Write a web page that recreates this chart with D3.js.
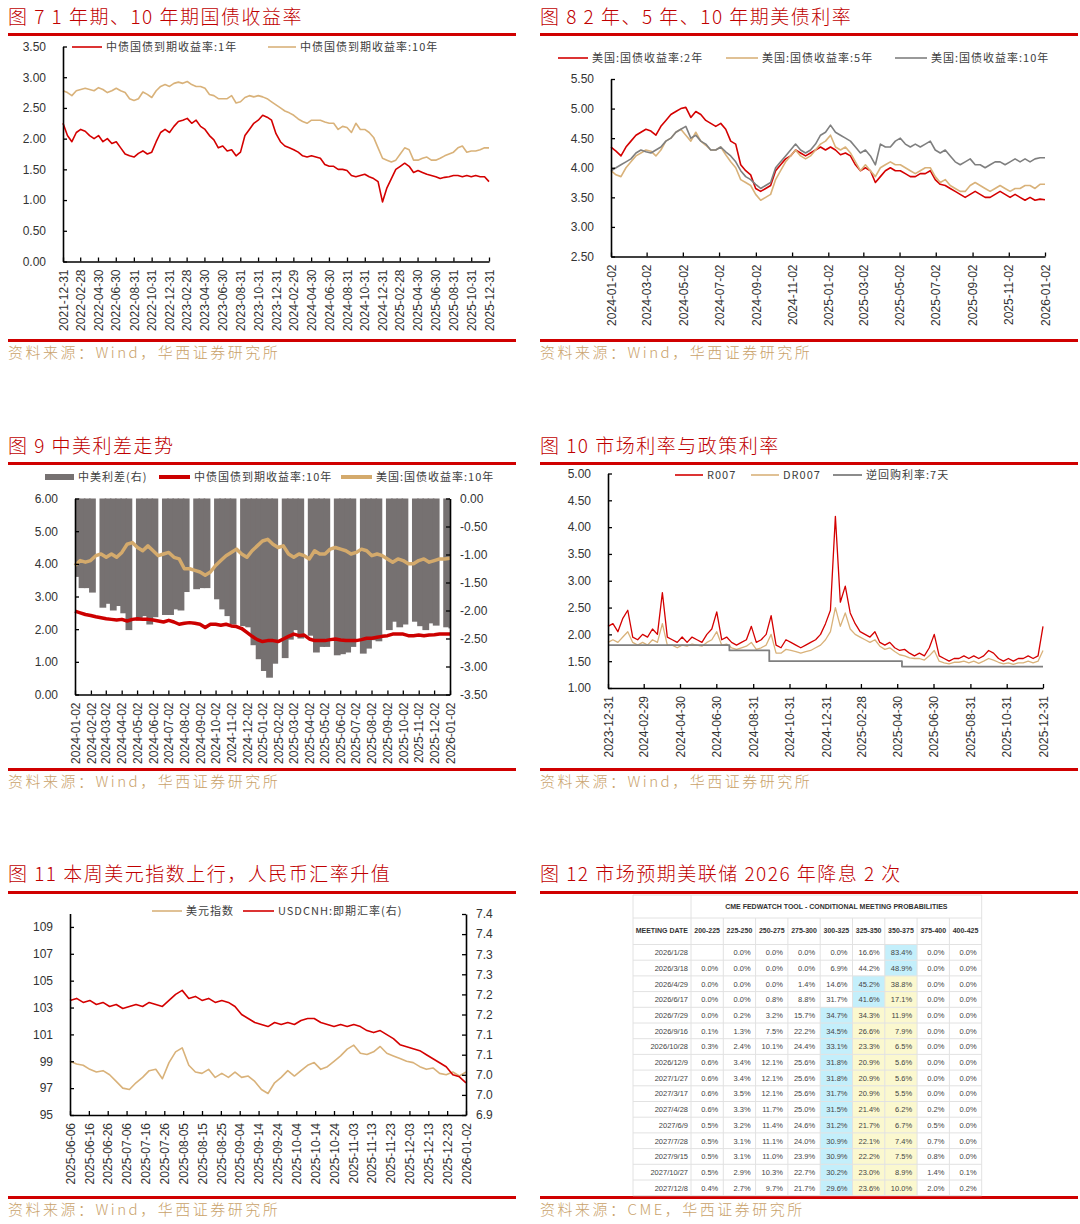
<!DOCTYPE html>
<html>
<head>
<meta charset="utf-8">
<script src="https://cdnjs.cloudflare.com/ajax/libs/d3/7.8.5/d3.min.js"></script>
<style>
  body { margin: 0; background: #fff; }
  svg { display: block; }
</style>
</head>
<body>
<svg id="chart" width="1080" height="1224"></svg>
<script>
// ---------- data ----------
var p7Ticks = ['2021-12-31','2022-02-28','2022-04-30','2022-06-30','2022-08-31','2022-10-31','2022-12-31','2023-02-28','2023-04-30','2023-06-30','2023-08-31','2023-10-31','2023-12-31','2024-02-29','2024-04-30','2024-06-30','2024-08-31','2024-10-31','2024-12-31','2025-02-28','2025-04-30','2025-06-30','2025-08-31','2025-10-31','2025-12-31'];
// semi-monthly readings, 2021-12-31 .. 2025-12-31
var cn1y = [2.25,2.05,1.95,2.1,2.15,2.12,2.05,2.0,2.05,1.95, 2.0,1.92,1.95,1.85,1.75,1.72,1.7,1.76,1.8,1.75, 1.78,1.95,2.1,2.15,2.1,2.2,2.28,2.3,2.33,2.25, 2.3,2.2,2.15,2.05,1.98,1.85,1.88,1.8,1.82,1.72, 1.78,2.05,2.15,2.25,2.3,2.38,2.35,2.3,2.08,1.95, 1.88,1.85,1.82,1.78,1.72,1.7,1.72,1.7,1.68,1.58, 1.55,1.55,1.5,1.5,1.48,1.4,1.38,1.4,1.42,1.38, 1.35,1.3,0.97,1.2,1.35,1.5,1.55,1.6,1.55,1.45, 1.48,1.45,1.42,1.4,1.38,1.35,1.37,1.38,1.4,1.4, 1.38,1.4,1.38,1.4,1.38,1.38,1.3];
var cn10y = [2.78,2.75,2.7,2.78,2.8,2.82,2.8,2.78,2.83,2.8, 2.75,2.78,2.82,2.78,2.75,2.65,2.62,2.65,2.76,2.72, 2.67,2.78,2.85,2.88,2.85,2.9,2.92,2.9,2.93,2.88, 2.85,2.85,2.82,2.72,2.7,2.65,2.65,2.65,2.7,2.58, 2.6,2.67,2.7,2.68,2.7,2.68,2.65,2.6,2.55,2.5, 2.45,2.42,2.38,2.32,2.28,2.25,2.3,2.3,2.3,2.27, 2.25,2.25,2.15,2.2,2.18,2.1,2.25,2.15,2.15,2.1, 2.02,1.85,1.68,1.65,1.62,1.65,1.75,1.85,1.82,1.65, 1.65,1.68,1.7,1.65,1.65,1.68,1.72,1.75,1.78,1.85, 1.88,1.78,1.8,1.8,1.82,1.85,1.85];

var p8Ticks = ['2024-01-02','2024-03-02','2024-05-02','2024-07-02','2024-09-02','2024-11-02','2025-01-02','2025-03-02','2025-05-02','2025-07-02','2025-09-02','2025-11-02','2026-01-02'];
var us2y = [4.35,4.28,4.2,4.35,4.45,4.55,4.6,4.65,4.62,4.55, 4.7,4.8,4.9,4.95,5.0,5.02,4.85,4.95,4.9,4.8, 4.75,4.7,4.75,4.65,4.45,4.4,4.05,3.95,3.88,3.65, 3.6,3.65,3.7,3.95,4.05,4.15,4.2,4.3,4.25,4.2, 4.25,4.3,4.35,4.3,4.35,4.3,4.22,4.25,4.2,4.05, 3.95,4.0,3.95,3.75,3.85,3.95,4.0,3.95,3.95,3.9, 3.85,3.85,3.9,3.9,3.95,3.8,3.72,3.7,3.65,3.6, 3.55,3.5,3.55,3.6,3.55,3.5,3.5,3.55,3.6,3.55, 3.5,3.55,3.5,3.45,3.5,3.45,3.47,3.46];
var us5y = [3.95,3.88,3.85,4.0,4.1,4.2,4.25,4.3,4.28,4.2, 4.3,4.45,4.5,4.6,4.65,4.55,4.45,4.6,4.45,4.38, 4.3,4.3,4.35,4.22,4.1,4.0,3.8,3.75,3.7,3.55, 3.45,3.5,3.55,3.8,3.95,4.1,4.2,4.3,4.2,4.15, 4.2,4.3,4.4,4.45,4.55,4.35,4.3,4.35,4.25,4.1, 3.95,4.05,3.95,3.85,4.0,4.05,4.1,4.05,4.05,4.0, 3.95,3.9,3.95,4.0,4.0,3.85,3.75,3.8,3.7,3.65, 3.6,3.6,3.7,3.75,3.7,3.65,3.6,3.65,3.7,3.65, 3.6,3.65,3.65,3.7,3.7,3.65,3.72,3.72];
var us10y = [3.95,4.0,4.05,4.1,4.15,4.25,4.3,4.27,4.25,4.3, 4.35,4.45,4.5,4.6,4.65,4.7,4.5,4.55,4.45,4.4, 4.3,4.3,4.35,4.27,4.2,4.1,3.95,3.85,3.8,3.72, 3.65,3.7,3.75,4.0,4.1,4.2,4.3,4.4,4.3,4.25, 4.3,4.4,4.55,4.6,4.72,4.6,4.55,4.5,4.45,4.35, 4.25,4.3,4.2,4.05,4.4,4.35,4.35,4.45,4.5,4.4, 4.35,4.4,4.35,4.4,4.45,4.3,4.25,4.3,4.2,4.1, 4.05,4.1,4.15,4.05,4.05,4.0,4.05,4.1,4.1,4.05, 4.1,4.15,4.1,4.15,4.1,4.15,4.17,4.17];

var p9Ticks = ['2024-01-02','2024-02-02','2024-03-02','2024-04-02','2024-05-02','2024-06-02','2024-07-02','2024-08-02','2024-09-02','2024-10-02','2024-11-02','2024-12-02','2025-01-02','2025-02-02','2025-03-02','2025-04-02','2025-05-02','2025-06-02','2025-07-02','2025-08-02','2025-09-02','2025-10-02','2025-11-02','2025-12-02','2026-01-02'];
// ~10-day readings, 2024-01-02 .. 2026-01-02
var p9Cn10y = [2.55,2.5,2.45, 2.42,2.38,2.35, 2.32,2.3,2.28, 2.3,2.25,2.3, 2.32,2.3,2.3, 2.28,2.25,2.22, 2.27,2.22,2.15, 2.18,2.2,2.18, 2.15,2.05,2.15, 2.15,2.12,2.15, 2.1,2.08,2.02, 1.9,1.78,1.68, 1.62,1.65,1.65, 1.62,1.7,1.78, 1.85,1.8,1.82, 1.7,1.65,1.65, 1.65,1.68,1.7, 1.67,1.65,1.65, 1.65,1.68,1.72, 1.72,1.75,1.78, 1.8,1.85,1.85, 1.85,1.8,1.8, 1.82,1.8,1.82, 1.83,1.85,1.85, 1.85];
var p9Us10y = [3.95,4.1,4.05, 4.1,4.25,4.3, 4.2,4.3,4.2, 4.35,4.6,4.65, 4.5,4.4,4.55, 4.4,4.25,4.3, 4.35,4.2,4.15, 3.85,3.85,3.8, 3.75,3.65,3.75, 3.95,4.1,4.25, 4.35,4.45,4.3, 4.2,4.4,4.55, 4.7,4.75,4.6, 4.5,4.55,4.3, 4.2,4.3,4.25, 4.15,4.4,4.3, 4.3,4.45,4.5, 4.45,4.4,4.3, 4.35,4.45,4.4, 4.25,4.3,4.25, 4.15,4.05,4.15, 4.1,4.0,4.0, 4.1,4.15,4.05, 4.1,4.15,4.15, 4.17];
var p9Spread = [-1.4,-1.6,-1.6, -1.68,null,-1.95, -1.88,-2.0,-1.92, -2.05,-2.35,null, -2.18,-2.1,-2.25, -2.12,null,-2.08, -2.08,-1.98,-2.0, -1.67,null,-1.62, -1.6,-1.6,null, -1.8,-1.98,-2.1, -2.25,null,-2.28, -2.3,-2.62,-2.87, -3.08,-3.2,-2.95, null,-2.85,-2.52, -2.35,-2.5,null, -2.45,-2.75,-2.65, -2.65,null,-2.8, -2.78,-2.75,-2.65, null,-2.77,-2.68, -2.53,-2.55,null, -2.35,-2.2,-2.3, -2.25,null,-2.2, -2.28,-2.35,-2.23, -2.27,null,-2.3, -2.32];

var p10Ticks = ['2023-12-31','2024-02-29','2024-04-30','2024-06-30','2024-08-31','2024-10-31','2024-12-31','2025-02-28','2025-04-30','2025-06-30','2025-08-31','2025-10-31','2025-12-31'];
// ~8-day readings, 2023-12-31 .. 2025-12-31
var r007 = [2.15,2.2,2.05,2.3,2.45,1.95,1.9,2.0,1.95,2.1, 2.0,2.78,1.95,1.9,1.85,1.95,1.85,1.95,1.9,1.85, 2.0,2.1,2.42,1.9,1.95,1.85,1.8,1.85,1.9,2.15, 1.85,1.9,2.0,2.35,1.8,1.75,1.9,1.85,1.8,1.75, 1.8,1.85,1.9,2.0,2.2,2.45,4.2,2.6,2.9,2.4, 2.2,2.05,2.0,1.95,2.05,1.85,1.8,1.85,1.75,1.7, 1.72,1.65,1.6,1.65,1.6,1.75,2.0,1.6,1.55,1.5, 1.55,1.55,1.6,1.55,1.6,1.55,1.6,1.7,1.65,1.55, 1.5,1.55,1.5,1.55,1.55,1.6,1.55,1.6,2.15];
var dr007 = [1.85,1.9,1.85,1.95,2.05,1.85,1.8,1.85,1.8,1.9, 1.85,2.2,1.8,1.8,1.75,1.8,1.78,1.82,1.8,1.78, 1.85,1.9,2.05,1.8,1.82,1.75,1.72,1.75,1.78,1.85, 1.72,1.75,1.8,2.0,1.65,1.65,1.72,1.7,1.68,1.65, 1.68,1.7,1.75,1.8,1.9,2.05,2.5,2.15,2.4,2.1, 2.0,1.95,1.9,1.85,1.9,1.78,1.72,1.75,1.68,1.62, 1.6,1.56,1.55,1.55,1.52,1.6,1.7,1.5,1.47,1.45, 1.48,1.48,1.5,1.47,1.5,1.46,1.5,1.55,1.52,1.48, 1.45,1.47,1.44,1.47,1.47,1.5,1.47,1.5,1.7];
var policy7d = [['2023-12-31',1.8],['2024-07-22',1.7],['2024-09-27',1.5],['2025-05-08',1.4],['2025-12-31',1.4]];

var p11Ticks = ['2025-06-06','2025-06-16','2025-06-26','2025-07-06','2025-07-16','2025-07-26','2025-08-05','2025-08-15','2025-08-25','2025-09-04','2025-09-14','2025-09-24','2025-10-04','2025-10-14','2025-10-24','2025-11-03','2025-11-13','2025-11-23','2025-12-03','2025-12-13','2025-12-23','2026-01-02'];
var p11LeftTicks = [95,97,99,101,103,105,107,109];
var p11RightTicks = [6.9,6.95,7.0,7.05,7.1,7.15,7.2,7.25,7.3,7.35,7.4];
var p11RightLabels = ['6.9','7.0','7.0','7.1','7.1','7.2','7.2','7.3','7.3','7.4','7.4'];
// ~3.5-day readings, 2025-06-06 .. 2026-01-02
var dxy = [99.0,98.8,98.7,98.4,98.2,98.3,98.0,97.5,97.0,96.9, 97.4,97.8,98.3,98.4,97.7,98.9,99.7,100.0,98.7,98.2, 98.1,98.4,97.8,98.1,97.8,98.2,97.8,97.9,97.5,96.9, 96.6,97.4,97.8,98.3,97.9,98.3,98.7,98.9,98.4,98.6, 99.0,99.4,99.9,100.2,99.6,99.5,99.7,100.1,99.6,99.4, 99.2,99.0,98.9,98.6,98.4,98.5,98.1,98.0,98.2,97.9, 98.2];
var usdcnh = [7.185,7.19,7.18,7.185,7.175,7.18,7.17,7.175,7.165,7.17, 7.175,7.17,7.18,7.175,7.17,7.185,7.2,7.21,7.19,7.195, 7.185,7.19,7.18,7.185,7.18,7.17,7.15,7.14,7.13,7.125, 7.12,7.13,7.125,7.13,7.125,7.135,7.14,7.14,7.13,7.125, 7.12,7.125,7.12,7.125,7.12,7.11,7.105,7.11,7.1,7.09, 7.075,7.07,7.065,7.06,7.05,7.04,7.03,7.02,7.0,6.995, 6.98];

var p12Ranges = ['200-225','225-250','250-275','275-300','300-325','325-350','350-375','375-400','400-425'];
var p12Dates = ['2026/1/28','2026/3/18','2026/4/29','2026/6/17','2026/7/29','2026/9/16','2026/10/28','2026/12/9','2027/1/27','2027/3/17','2027/4/28','2027/6/9','2027/7/28','2027/9/15','2027/10/27','2027/12/8'];
var p12Probs = [
  ['','0.0%','0.0%','0.0%','0.0%','16.6%','83.4%','0.0%','0.0%'],
  ['0.0%','0.0%','0.0%','0.0%','6.9%','44.2%','48.9%','0.0%','0.0%'],
  ['0.0%','0.0%','0.0%','1.4%','14.6%','45.2%','38.8%','0.0%','0.0%'],
  ['0.0%','0.0%','0.8%','8.8%','31.7%','41.6%','17.1%','0.0%','0.0%'],
  ['0.0%','0.2%','3.2%','15.7%','34.7%','34.3%','11.9%','0.0%','0.0%'],
  ['0.1%','1.3%','7.5%','22.2%','34.5%','26.6%','7.9%','0.0%','0.0%'],
  ['0.3%','2.4%','10.1%','24.4%','33.1%','23.3%','6.5%','0.0%','0.0%'],
  ['0.6%','3.4%','12.1%','25.6%','31.8%','20.9%','5.6%','0.0%','0.0%'],
  ['0.6%','3.4%','12.1%','25.6%','31.8%','20.9%','5.6%','0.0%','0.0%'],
  ['0.6%','3.5%','12.1%','25.6%','31.7%','20.9%','5.5%','0.0%','0.0%'],
  ['0.6%','3.3%','11.7%','25.0%','31.5%','21.4%','6.2%','0.2%','0.0%'],
  ['0.5%','3.2%','11.4%','24.6%','31.2%','21.7%','6.7%','0.5%','0.0%'],
  ['0.5%','3.1%','11.1%','24.0%','30.9%','22.1%','7.4%','0.7%','0.0%'],
  ['0.5%','3.1%','11.0%','23.9%','30.9%','22.2%','7.5%','0.8%','0.0%'],
  ['0.5%','2.9%','10.3%','22.7%','30.2%','23.0%','8.9%','1.4%','0.1%'],
  ['0.4%','2.7%','9.7%','21.7%','29.6%','23.6%','10.0%','2.0%','0.2%']
];
// c = blue highlight, y = yellow highlight
var p12Marks = ['......c..','......c..','.....cy..','.....cy..','....cyy..','....cyy..','....cyy..','....cyy..','....cyy..','....cyy..','....cyy..','....cyy..','....cyy..','....cyy..','....cyy..','....cyy..'];

// ---------- helpers ----------
var parse = d3.timeParse('%Y-%m-%d');
var fmtDate = d3.timeFormat('%Y-%m-%d');
var RED = '#d40000', TAN = '#d9b27a', GRAY = '#7f7f7f', BAR = '#767171';
var CN = '"Noto Sans CJK SC", sans-serif', NUM = '"Liberation Sans", Arial, sans-serif';
var svg = d3.select('#chart');

function spread(start, end, vals) {
  var t0 = parse(start).getTime(), t1 = parse(end).getTime(), n = vals.length - 1;
  return vals.map(function (v, i) { return { d: new Date(t0 + (t1 - t0) * i / n), v: v }; });
}

function frame(x0, x1, titleBase, ruleY, bottomY, title, source) {
  svg.append('text').attr('x', x0).attr('y', titleBase)
    .attr('font-family', CN).attr('font-size', 19).attr('font-weight', 300).attr('fill', '#c00000')
    .attr('letter-spacing', 1.5).text(title);
  svg.append('rect').attr('x', x0).attr('y', ruleY).attr('width', x1 - x0).attr('height', 3).attr('fill', '#d00000');
  svg.append('rect').attr('x', x0).attr('y', bottomY).attr('width', x1 - x0).attr('height', 3).attr('fill', '#d00000');
  svg.append('text').attr('x', x0).attr('y', bottomY + 19)
    .attr('font-family', CN).attr('font-size', 15).attr('font-weight', 300).attr('fill', '#c9a26a')
    .attr('letter-spacing', 2.5).text(source);
}

function styleAxis(g) {
  g.select('.domain').attr('stroke', '#000').attr('stroke-width', 1.6);
  g.selectAll('.tick line').attr('stroke', '#000').attr('stroke-width', 1.3);
  g.selectAll('text').attr('font-family', NUM).attr('font-size', 12).attr('fill', '#333');
}

function yAxis(x0, scale, ticks, fmt, right) {
  var ax = (right ? d3.axisRight(scale) : d3.axisLeft(scale))
    .tickValues(ticks).tickFormat(fmt).tickSizeInner(-4).tickSizeOuter(0)
    .tickPadding(right ? 10 : 17);
  var g = svg.append('g').attr('transform', 'translate(' + x0 + ',0)').call(ax);
  styleAxis(g);
}

function xAxis(y0, scale, ticks) {
  var ax = d3.axisBottom(scale).tickValues(ticks.map(parse)).tickFormat(fmtDate)
    .tickSizeInner(-4).tickSizeOuter(0);
  var g = svg.append('g').attr('transform', 'translate(0,' + y0 + ')').call(ax);
  styleAxis(g);
  g.selectAll('text').attr('transform', 'rotate(-90)').attr('text-anchor', 'end')
    .attr('x', -8).attr('y', 0).attr('dy', '0.35em');
}

function drawLine(pts, x, y, color, w, curve) {
  svg.append('path').datum(pts)
    .attr('fill', 'none').attr('stroke', color).attr('stroke-width', w)
    .attr('stroke-linejoin', 'round')
    .attr('d', d3.line().x(function (d) { return x(d.d); }).y(function (d) { return y(d.v); })
      .curve(curve || d3.curveLinear));
}

function legend(x, y, len, color, w, label) {
  svg.append('line').attr('x1', x).attr('x2', x + len).attr('y1', y).attr('y2', y)
    .attr('stroke', color).attr('stroke-width', w);
  svg.append('text').attr('x', x + len + 4).attr('y', y + 4)
    .attr('font-family', CN).attr('font-size', 11).attr('fill', '#404040')
    .attr('letter-spacing', 1).text(label);
}

var f2 = function (d) { return d.toFixed(2); };

// ---------- frames ----------
frame(8, 516, 24, 33, 339, '图 7 1 年期、10 年期国债收益率', '资料来源：Wind，华西证券研究所');
frame(540, 1078, 24, 33, 339, '图 8 2 年、5 年、10 年期美债利率', '资料来源：Wind，华西证券研究所');
frame(8, 516, 453, 462, 768, '图 9  中美利差走势', '资料来源：Wind，华西证券研究所');
frame(540, 1078, 453, 462, 768, '图 10  市场利率与政策利率', '资料来源：Wind，华西证券研究所');
frame(8, 516, 881, 891, 1196, '图 11 本周美元指数上行，人民币汇率升值', '资料来源：Wind，华西证券研究所');
frame(540, 1078, 881, 891, 1196, '图 12  市场预期美联储 2026 年降息 2 次', '资料来源：CME，华西证券研究所');

// ---------- panel 7 ----------
var x7 = d3.scaleTime().domain([parse('2021-12-31'), parse('2025-12-31')]).range([63, 489]);
var y7 = d3.scaleLinear().domain([0, 3.5]).range([261.5, 46.5]);
drawLine(spread('2021-12-31', '2025-12-31', cn1y), x7, y7, RED, 1.6);
drawLine(spread('2021-12-31', '2025-12-31', cn10y), x7, y7, TAN, 1.6);
yAxis(63, y7, d3.range(0, 3.51, 0.5), f2);
xAxis(261.5, x7, p7Ticks);
legend(72, 47, 30, RED, 1.6, '中债国债到期收益率:1年');
legend(268, 47, 28, TAN, 1.6, '中债国债到期收益率:10年');

// ---------- panel 8 ----------
var x8 = d3.scaleTime().domain([parse('2024-01-02'), parse('2026-01-02')]).range([611, 1045]);
var y8 = d3.scaleLinear().domain([2.5, 5.5]).range([256.5, 79]);
drawLine(spread('2024-01-02', '2026-01-02', us2y), x8, y8, RED, 1.6);
drawLine(spread('2024-01-02', '2026-01-02', us5y), x8, y8, TAN, 1.6);
drawLine(spread('2024-01-02', '2026-01-02', us10y), x8, y8, GRAY, 1.6);
yAxis(611, y8, d3.range(2.5, 5.51, 0.5), f2);
xAxis(256.5, x8, p8Ticks);
legend(558, 58, 30, RED, 1.6, '美国:国债收益率:2年');
legend(726, 58, 32, TAN, 1.6, '美国:国债收益率:5年');
legend(895, 58, 32, GRAY, 1.6, '美国:国债收益率:10年');

// ---------- panel 9 ----------
var x9 = d3.scaleTime().domain([parse('2024-01-02'), parse('2026-01-02')]).range([75, 450]);
var y9 = d3.scaleLinear().domain([0, 6]).range([694.5, 498.5]);
var y9r = d3.scaleLinear().domain([-3.5, 0]).range([694.5, 498.5]);
var spreadPts = spread('2024-01-02', '2026-01-02', p9Spread);
var barStep = x9(spreadPts[1].d) - x9(spreadPts[0].d);
// bars overlap a little so the area reads as solid; missing days leave thin gaps
svg.append('g').selectAll('rect')
  .data(spreadPts.filter(function (d) { return d.v !== null; }))
  .join('rect')
  .attr('x', function (d) { return Math.max(75, x9(d.d) - barStep * 0.3); })
  .attr('width', function (d) {
    var a = Math.max(75, x9(d.d) - barStep * 0.3), b = Math.min(450, x9(d.d) + barStep * 1.0);
    return Math.max(0, b - a);
  })
  .attr('y', y9r(0))
  .attr('height', function (d) { return y9r(d.v) - y9r(0); })
  .attr('fill', BAR);
drawLine(spread('2024-01-02', '2026-01-02', p9Cn10y), x9, y9, '#cc0000', 3.5);
drawLine(spread('2024-01-02', '2026-01-02', p9Us10y), x9, y9, '#d4aa6c', 3.5);
yAxis(75, y9, d3.range(0, 6.01, 1), f2);
yAxis(450, y9r, d3.range(-3.5, 0.01, 0.5), f2, true);
xAxis(694.5, x9, p9Ticks);
svg.append('rect').attr('x', 45).attr('y', 474).attr('width', 29).attr('height', 6).attr('fill', BAR);
svg.append('text').attr('x', 78).attr('y', 481).attr('font-family', CN).attr('font-size', 11)
  .attr('fill', '#404040').attr('letter-spacing', 1).text('中美利差(右)');
legend(159, 477, 31, '#cc0000', 4, '中债国债到期收益率:10年');
legend(341, 477, 31, '#d4aa6c', 4, '美国:国债收益率:10年');

// ---------- panel 10 ----------
var x10 = d3.scaleTime().domain([parse('2023-12-31'), parse('2025-12-31')]).range([608, 1043]);
var y10 = d3.scaleLinear().domain([1, 5]).range([688, 473.5]);
drawLine(spread('2023-12-31', '2025-12-31', r007), x10, y10, RED, 1.3);
drawLine(spread('2023-12-31', '2025-12-31', dr007), x10, y10, TAN, 1.3);
drawLine(policy7d.map(function (p) { return { d: parse(p[0]), v: p[1] }; }), x10, y10, GRAY, 1.8, d3.curveStepAfter);
yAxis(608, y10, d3.range(1, 5.01, 0.5), f2);
xAxis(688, x10, p10Ticks);
legend(675, 475, 28, RED, 1.6, 'R007');
legend(751, 475, 28, TAN, 1.6, 'DR007');
legend(833, 475, 29, GRAY, 1.8, '逆回购利率:7天');

// ---------- panel 11 ----------
var x11 = d3.scaleTime().domain([parse('2025-06-06'), parse('2026-01-02')]).range([70, 466]);
var y11 = d3.scaleLinear().domain([95, 110]).range([1115, 913.5]);
var y11r = d3.scaleLinear().domain([6.9, 7.4]).range([1115, 914]);
drawLine(spread('2025-06-06', '2026-01-02', dxy), x11, y11, TAN, 1.6);
drawLine(spread('2025-06-06', '2026-01-02', usdcnh), x11, y11r, RED, 1.6);
yAxis(70, y11, p11LeftTicks, d3.format('d'));
yAxis(466, y11r, p11RightTicks, function (d, i) { return p11RightLabels[i]; }, true);
xAxis(1115, x11, p11Ticks);
legend(152, 911, 30, TAN, 1.6, '美元指数');
legend(243, 911, 31, RED, 1.6, 'USDCNH:即期汇率(右)');

// ---------- panel 12 (table) ----------
var tL = 633, colX0 = 691, colW = 32.3, tR = colX0 + colW * 9;
var h1Top = 895, h2Top = 918, rowTop = 944.5, rowH = 15.7;
var tBottom = rowTop + rowH * p12Dates.length;
var tb = svg.append('g');
p12Marks.forEach(function (m, r) {
  m.split('').forEach(function (ch, c) {
    if (ch === '.') return;
    tb.append('rect').attr('x', colX0 + c * colW).attr('y', rowTop + r * rowH)
      .attr('width', colW).attr('height', rowH)
      .attr('fill', ch === 'c' ? '#c4effb' : '#fbf8cf');
  });
});
var hLines = [h1Top, h2Top, rowTop].concat(p12Dates.map(function (d, i) { return rowTop + (i + 1) * rowH; }));
tb.selectAll('line.h').data(hLines).join('line').attr('class', 'h')
  .attr('x1', tL).attr('x2', tR).attr('y1', function (d) { return d; }).attr('y2', function (d) { return d; })
  .attr('stroke', '#e2e2e2').attr('stroke-width', 1);
tb.append('line').attr('x1', tL).attr('x2', tL).attr('y1', h1Top).attr('y2', tBottom).attr('stroke', '#e2e2e2');
tb.append('line').attr('x1', tR).attr('x2', tR).attr('y1', h1Top).attr('y2', tBottom).attr('stroke', '#e2e2e2');
tb.append('line').attr('x1', colX0).attr('x2', colX0).attr('y1', h1Top).attr('y2', tBottom).attr('stroke', '#e2e2e2');
tb.selectAll('line.v').data(d3.range(1, 9)).join('line').attr('class', 'v')
  .attr('x1', function (c) { return colX0 + c * colW; }).attr('x2', function (c) { return colX0 + c * colW; })
  .attr('y1', h2Top).attr('y2', tBottom).attr('stroke', '#e2e2e2');
tb.append('text').attr('x', (colX0 + tR) / 2).attr('y', 908.5).attr('text-anchor', 'middle')
  .attr('font-family', NUM).attr('font-size', 7).attr('font-weight', 'bold').attr('fill', '#333')
  .text('CME FEDWATCH TOOL - CONDITIONAL MEETING PROBABILITIES');
tb.append('text').attr('x', colX0 - 3).attr('y', 932.5).attr('text-anchor', 'end')
  .attr('font-family', NUM).attr('font-size', 7).attr('font-weight', 'bold').attr('fill', '#333')
  .text('MEETING DATE');
tb.selectAll('text.rh').data(p12Ranges).join('text').attr('class', 'rh')
  .attr('x', function (d, i) { return colX0 + i * colW + colW / 2; }).attr('y', 932.5)
  .attr('text-anchor', 'middle').attr('font-family', NUM).attr('font-size', 7)
  .attr('font-weight', 'bold').attr('fill', '#333').text(function (d) { return d; });
tb.selectAll('text.dt').data(p12Dates).join('text').attr('class', 'dt')
  .attr('x', colX0 - 3).attr('y', function (d, i) { return rowTop + i * rowH + 10.6; })
  .attr('text-anchor', 'end').attr('font-family', NUM).attr('font-size', 7.5).attr('fill', '#444')
  .text(function (d) { return d; });
p12Probs.forEach(function (row, r) {
  tb.selectAll('text.p' + r).data(row).join('text').attr('class', 'p' + r)
    .attr('x', function (d, c) { return colX0 + (c + 1) * colW - 5; })
    .attr('y', rowTop + r * rowH + 10.6)
    .attr('text-anchor', 'end').attr('font-family', NUM).attr('font-size', 7.5).attr('fill', '#444')
    .text(function (d) { return d; });
});
</script>
</body>
</html>
